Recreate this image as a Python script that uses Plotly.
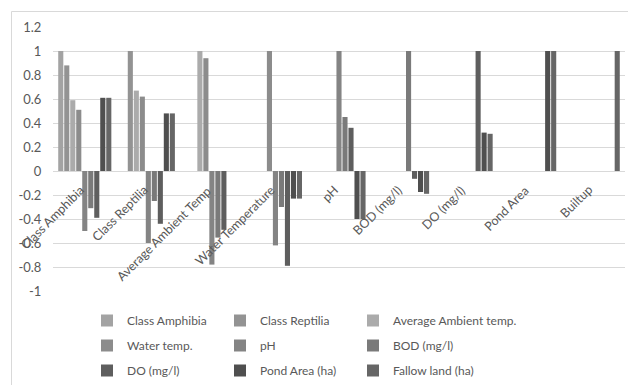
import plotly.graph_objects as go

categories = ["Class Amphibia", "Class Reptilia", "Average Ambient Temp", "Water Temperature",
              "pH", "BOD (mg/l)", "DO (mg/l)", "Pond Area", "Builtup"]

series_names = ["Class Amphibia", "Class Reptilia", "Average Ambient temp.", "Water temp.",
                "pH", "BOD (mg/l)", "DO (mg/l)", "Pond Area (ha)", "Fallow land (ha)"]

class_amphibia = [1, None, None, None, None, None, None, None, None]
class_reptilia = [0.88, 1, None, None, None, None, None, None, None]
avg_ambient_temp = [0.59, 0.67, 1, None, None, None, None, None, None]
water_temp = [0.51, 0.62, 0.94, 1, None, None, None, None, None]
ph = [-0.50, -0.60, -0.78, -0.62, 1, None, None, None, None]
bod = [-0.31, -0.25, -0.555, -0.30, 0.45, 1, None, None, None]
do = [-0.39, -0.44, -0.49, -0.79, 0.36, -0.065, 1, None, None]
pond_area = [0.61, 0.48, 0, -0.23, -0.40, -0.175, 0.32, 1, None]
fallow_land = [0.61, 0.48, 0, -0.23, -0.40, -0.19, 0.31, 1, 1]

series_values = [class_amphibia, class_reptilia, avg_ambient_temp, water_temp,
                 ph, bod, do, pond_area, fallow_land]

colors = ["#a3a3a3", "#939393", "#ababab", "#8c8c8c", "#848484",
          "#7a7a7a", "#5e5e5e", "#4f4f4f", "#666666"]

y_ticks = [-1, -0.8, -0.6, -0.4, -0.2, 0, 0.2, 0.4, 0.6, 0.8, 1, 1.2]
y_tick_labels = ["-1", "-0.8", "-0.6", "-0.4", "-0.2", "0", "0.2", "0.4", "0.6", "0.8", "1", "1.2"]

FONT = "Lato, 'Open Sans', sans-serif"
GRAY = "#595959"

legend_cols = ["legend", "legend2", "legend3"]

fig = go.Figure()
for i, (name, vals) in enumerate(zip(series_names, series_values)):
    fig.add_trace(go.Bar(
        x=categories, y=vals, name=name,
        marker=dict(color=colors[i], line=dict(width=0)),
        legend=legend_cols[i % 3],
        legendgroup=f"g{i}",
    ))

# page body adds an 8px margin, so the figure is sized to fill the rest of the window
W, H = 628, 377
L, R, T, B = 45, 11, 19, 94
pw, ph_ = W - L - R, H - T - B

def px_to_paper_x(px):
    return (px - L) / pw

def px_to_paper_y(py):
    return (H - B - py) / ph_

legend_common = dict(
    orientation="v", xanchor="left", yanchor="top",
    xref="container", yref="container",
    font=dict(family=FONT, size=12, color=GRAY),
    bgcolor="rgba(0,0,0,0)", traceorder="grouped", tracegroupgap=6,
    itemwidth=30,
)

layout_legends = {}
col_x = [79, 212, 345]
for name, xp in zip(legend_cols, col_x):
    layout_legends[name] = dict(legend_common, x=xp / W, y=1 - 298 / H)

annotations = []
for c in categories:
    annotations.append(dict(
        x=c, y=0, xref="x", yref="y", text=c, showarrow=False,
        textangle=-45, xanchor="right", yanchor="top",
        xshift=5, yshift=-9,
        font=dict(family=FONT, size=12.5, color=GRAY),
    ))

fig.update_layout(
    width=W, height=H,
    margin=dict(l=L, r=R, t=T, b=B, autoexpand=False),
    paper_bgcolor="white", plot_bgcolor="white",
    barmode="group", bargap=0.15, bargroupgap=0.15,
    font=dict(family=FONT, size=12, color=GRAY),
    showlegend=True,
    annotations=annotations,
    shapes=[dict(type="rect", xref="paper", yref="paper",
                 x0=px_to_paper_x(3.5), x1=px_to_paper_x(640),
                 y0=px_to_paper_y(390), y1=px_to_paper_y(3.5),
                 line=dict(color="#d9d9d9", width=1), layer="below")],
    **layout_legends,
)
fig.update_xaxes(range=[-0.5, len(categories) - 0.5], autorange=False, automargin=False,
                 showticklabels=False, showgrid=False, showline=False, ticks="")
fig.update_yaxes(range=[-1, 1.2], tickvals=y_ticks, ticktext=y_tick_labels, automargin=False,
                 showgrid=True, gridcolor="#d9d9d9", gridwidth=1,
                 zeroline=True, zerolinecolor="#d9d9d9", zerolinewidth=1,
                 showline=False, ticks="outside", ticklen=8, tickcolor="rgba(0,0,0,0)",
                 tickfont=dict(family=FONT, size=13, color=GRAY))

fig.write_html("out.html")
